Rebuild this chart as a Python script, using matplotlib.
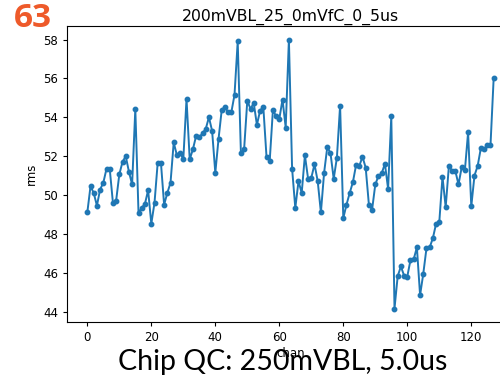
import matplotlib.pyplot as plt
import numpy as np

chan = np.arange(128)
rms = [
    49.1, 50.45, 50.1, 49.45, 50.28, 50.63, 51.35, 51.35, 49.6, 49.7,
    51.06, 51.7, 52.0, 51.2, 50.54, 54.42, 49.07, 49.33, 49.54, 50.24,
    48.52, 49.6, 51.67, 51.67, 49.5, 50.1, 50.63, 52.7, 52.04, 52.18,
    51.83, 54.94, 51.83, 52.35, 53.04, 52.96, 53.18, 53.39, 54.0, 53.3,
    51.14, 52.87, 54.37, 54.54, 54.25, 54.25, 55.15, 57.9, 52.15, 52.35,
    54.86, 54.42, 54.74, 53.61, 54.34, 54.54, 51.97, 51.75, 54.37, 54.05,
    53.91, 54.91, 53.47, 58.0, 51.35, 49.33, 50.71, 50.1, 52.04, 50.83,
    50.88, 51.58, 50.71, 49.1, 51.14, 52.47, 52.15, 50.83, 51.92, 54.6,
    48.81, 49.5, 50.1, 50.66, 51.55, 51.49, 51.97, 51.4, 49.5, 49.24,
    50.54, 50.98, 51.11, 51.61, 50.32, 54.05, 44.15, 45.82, 46.32, 45.85,
    45.8, 46.65, 46.69, 47.3, 44.84, 45.95, 47.26, 47.3, 47.78, 48.52,
    48.6, 50.93, 49.37, 51.49, 51.25, 51.25, 50.54, 51.42, 51.27, 53.22,
    49.41, 51.0, 51.5, 52.42, 52.36, 52.55, 52.55, 56.03,
]

title = '200mVBL_25_0mVfC_0_5us'
caption = 'Chip QC: 250mVBL, 5.0us'
slot = '63'

fig = plt.figure(figsize=(5.0, 3.78), dpi=100)
ax = fig.add_axes([0.134, 0.148, 0.894, 0.783])
ax.plot(chan, rms, marker='o', markersize=3.2, linewidth=1.4, color='#1f77b4')
ax.set_title(title, fontsize=11.3, pad=4)
ax.set_xlabel('chan', fontsize=8.5, labelpad=2)
ax.set_ylabel('rms', fontsize=8.5, labelpad=4)
ax.tick_params(labelsize=8.5, length=3)
ax.set_xticks(range(0, 121, 20))
ax.set_yticks(range(44, 59, 2))

# slide annotations drawn on top of the plot
fig.text(0.028, 0.995, slot, fontsize=24, fontweight='bold', color='#EE5A2A',
         family='Open Sans', va='top', ha='left')
fig.text(0.565, 0.008, caption, fontsize=20.5, color='black',
         family='Lato', va='bottom', ha='center')

fig.savefig('out.png', dpi=100)
